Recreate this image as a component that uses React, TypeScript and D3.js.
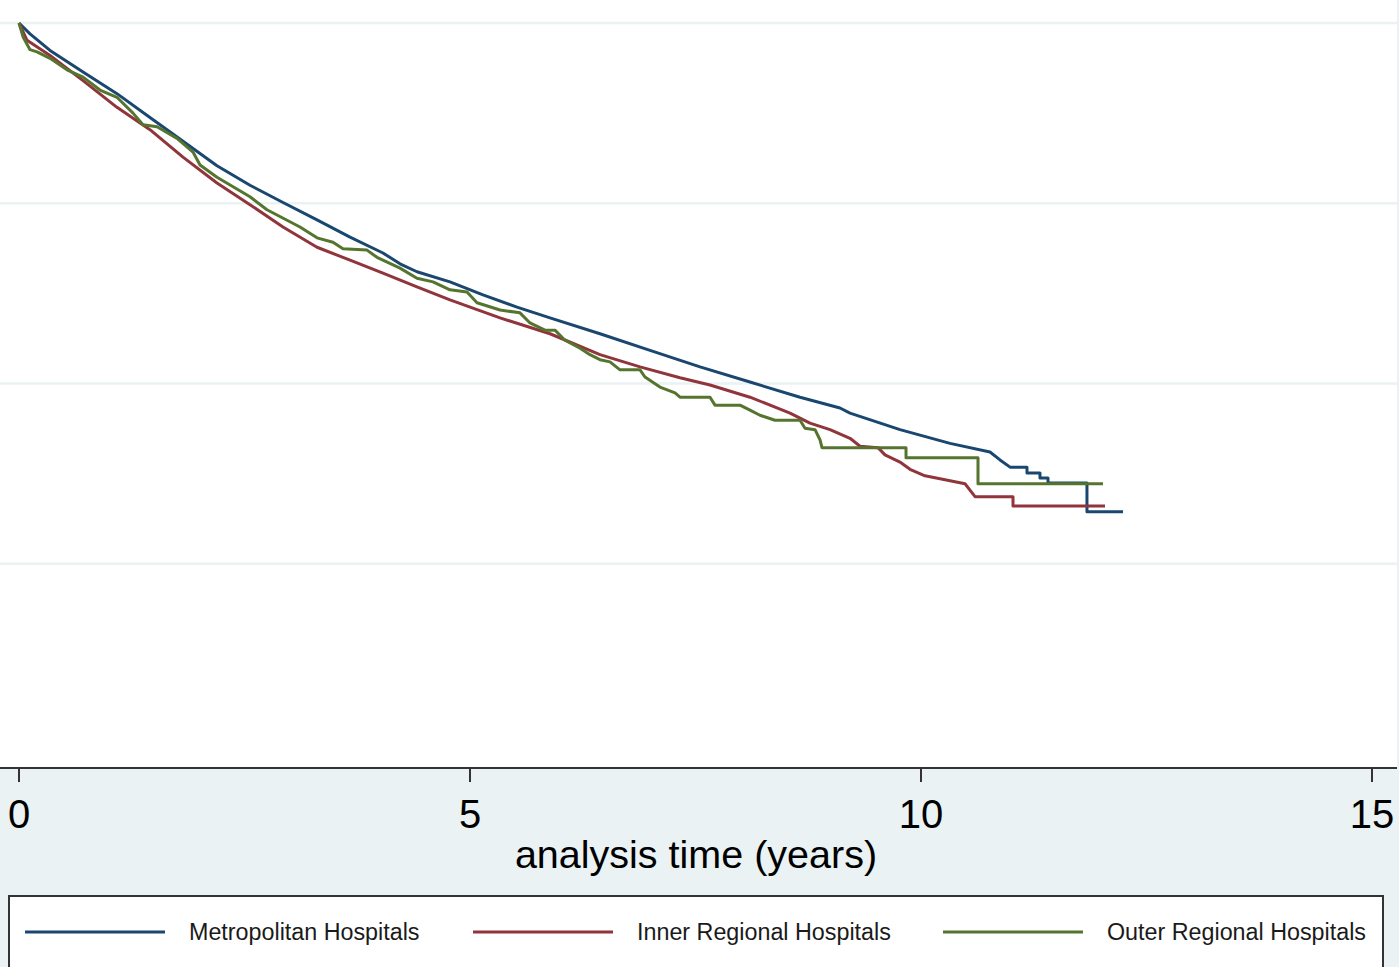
import React from "react";
import * as d3 from "d3";

const xTicks = [0, 5, 10, 15];
const yGrid = [0.25, 0.5, 0.75, 1];

const metroTime = [0,0.122,0.344,0.710,1.086,1.452,1.818,2.195,2.561,2.927,3.304,3.670,4.035,4.224,4.412,4.778,5.144,5.521,5.887,6.441,6.996,7.550,8.104,8.659,9.102,9.213,9.767,10.322,10.765,10.876,10.987,11.175,11.175,11.319,11.319,11.408,11.408,11.840,11.840,12.240];
const metroSurv = [1,0.985,0.962,0.932,0.902,0.869,0.836,0.802,0.775,0.751,0.727,0.703,0.681,0.666,0.655,0.641,0.623,0.606,0.591,0.569,0.546,0.523,0.502,0.481,0.466,0.459,0.436,0.417,0.405,0.394,0.384,0.384,0.376,0.376,0.369,0.369,0.362,0.362,0.322,0.322];

const innerTime = [0,0.089,0.344,0.710,1.086,1.452,1.818,2.195,2.561,2.927,3.304,3.670,4.035,4.412,4.778,5.333,5.887,6.441,6.885,7.328,7.661,8.104,8.548,8.769,8.991,9.213,9.324,9.523,9.601,9.767,9.878,10.044,10.211,10.488,10.543,10.599,11.020,11.020,12.040];
const innerSurv = [1,0.976,0.955,0.920,0.883,0.852,0.814,0.778,0.748,0.717,0.689,0.671,0.653,0.634,0.616,0.591,0.569,0.540,0.523,0.508,0.498,0.481,0.459,0.445,0.436,0.424,0.413,0.411,0.401,0.391,0.381,0.372,0.368,0.361,0.352,0.343,0.343,0.330,0.330];

const outerTime = [0,0.044,0.122,0.200,0.344,0.532,0.710,0.898,1.086,1.264,1.375,1.530,1.752,1.929,2.007,2.195,2.561,2.749,3.115,3.304,3.481,3.592,3.858,3.969,4.224,4.412,4.590,4.778,4.967,5.078,5.333,5.554,5.665,5.831,5.942,6.053,6.220,6.330,6.441,6.552,6.663,6.885,6.940,7.106,7.273,7.328,7.661,7.716,7.993,8.104,8.215,8.381,8.659,8.714,8.825,8.880,8.902,9.834,9.834,10.632,10.632,12.018];
const outerSurv = [1,0.981,0.963,0.960,0.951,0.935,0.925,0.907,0.897,0.875,0.859,0.856,0.840,0.821,0.803,0.786,0.759,0.741,0.717,0.702,0.696,0.687,0.685,0.675,0.660,0.646,0.641,0.630,0.627,0.612,0.602,0.598,0.584,0.574,0.574,0.560,0.549,0.540,0.533,0.530,0.519,0.519,0.509,0.495,0.487,0.481,0.481,0.470,0.470,0.463,0.456,0.449,0.449,0.438,0.436,0.422,0.411,0.411,0.397,0.397,0.361,0.361];

const seriesNames = ["Metropolitan Hospitals", "Inner Regional Hospitals", "Outer Regional Hospitals"];
const seriesColors = ["#1a476f", "#90353b", "#55752f"];
const seriesTimes = [metroTime, innerTime, outerTime];
const seriesSurvs = [metroSurv, innerSurv, outerSurv];

export default function App() {
  const W = 1399;
  const H = 967;
  const plotRight = 1397;
  const axisY = 768;
  const x = d3.scaleLinear().domain([0, 15]).range([19, 1372]);
  const y = d3.scaleLinear().domain([0, 1]).range([744, 23]);
  const line = d3
    .line<[number, number]>()
    .x((d) => x(d[0]))
    .y((d) => y(d[1]))
    .curve(d3.curveLinear);

  const legendX = [25, 473, 943];

  return (
    <div style={{ position: "absolute", left: 0, top: 0 }}>
      <svg width={W} height={H} style={{ display: "block", fontFamily: "'Liberation Sans', Arial, sans-serif" }}>
        <rect x={0} y={0} width={W} height={H} fill="#eaf2f3" />
        <rect x={0} y={0} width={plotRight} height={axisY} fill="#ffffff" />
        {yGrid.map((g) => (
          <line key={g} x1={0} x2={plotRight} y1={y(g)} y2={y(g)} stroke="#eaf2f3" strokeWidth={2.5} />
        ))}
        {seriesTimes.map((ts, i) => {
          const pts: [number, number][] = ts.map((t, j) => [t, seriesSurvs[i][j]]);
          return (
            <path
              key={i}
              d={line(pts) || ""}
              fill="none"
              stroke={seriesColors[i]}
              strokeWidth={3}
              strokeLinejoin="round"
            />
          );
        })}
        <line x1={0} x2={plotRight} y1={axisY} y2={axisY} stroke="#333333" strokeWidth={2} />
        {xTicks.map((t) => (
          <g key={t}>
            <line x1={x(t)} x2={x(t)} y1={axisY} y2={axisY + 14} stroke="#333333" strokeWidth={2} />
            <text x={x(t)} y={828} textAnchor="middle" fontSize={40} fill="#000000">
              {t}
            </text>
          </g>
        ))}
        <text x={696} y={868} textAnchor="middle" fontSize={39.5} fill="#000000">
          analysis time (years)
        </text>
        <rect x={9} y={896} width={1374} height={90} fill="#ffffff" stroke="#333333" strokeWidth={2} />
        {seriesNames.map((n, i) => (
          <g key={n}>
            <line x1={legendX[i]} x2={legendX[i] + 140} y1={932} y2={932} stroke={seriesColors[i]} strokeWidth={3} />
            <text x={legendX[i] + 164} y={940} fontSize={23.3} fill="#1a1a1a">
              {n}
            </text>
          </g>
        ))}
      </svg>
    </div>
  );
}
